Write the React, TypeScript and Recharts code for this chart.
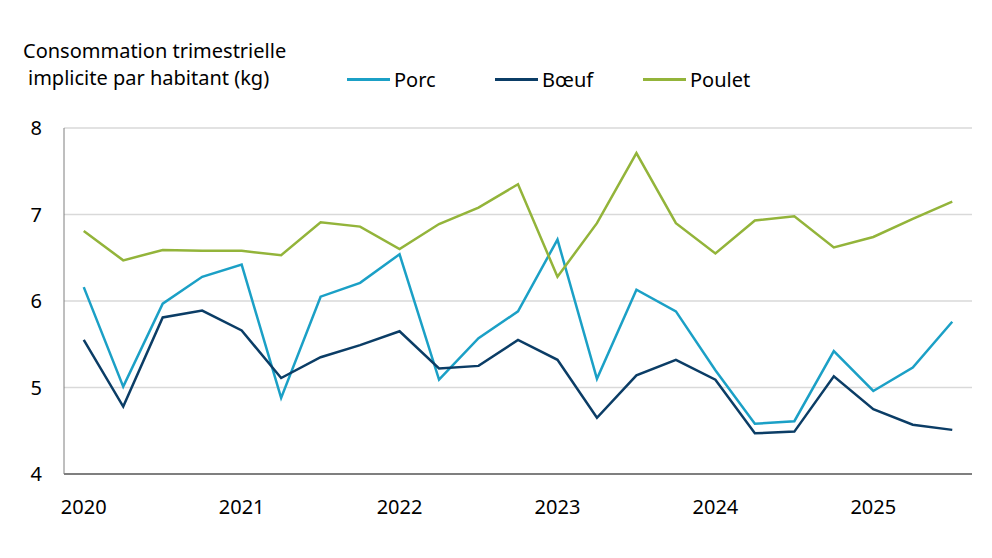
import { LineChart, Line, XAxis, YAxis, CartesianGrid } from 'recharts';

// Quarterly implied per-capita consumption (kg), 2020 T1 to 2025 T3
const quarters = [
  '2020 T1', '2020 T2', '2020 T3', '2020 T4',
  '2021 T1', '2021 T2', '2021 T3', '2021 T4',
  '2022 T1', '2022 T2', '2022 T3', '2022 T4',
  '2023 T1', '2023 T2', '2023 T3', '2023 T4',
  '2024 T1', '2024 T2', '2024 T3', '2024 T4',
  '2025 T1', '2025 T2', '2025 T3',
];

const porc = [
  6.16, 5.01, 5.97, 6.28, 6.42, 4.88, 6.05, 6.21,
  6.54, 5.09, 5.57, 5.88, 6.71, 5.10, 6.13, 5.88,
  5.20, 4.58, 4.61, 5.42, 4.96, 5.23, 5.76,
];

const boeuf = [
  5.55, 4.78, 5.81, 5.89, 5.66, 5.11, 5.35, 5.49,
  5.65, 5.22, 5.25, 5.55, 5.32, 4.65, 5.14, 5.32,
  5.09, 4.47, 4.49, 5.13, 4.75, 4.57, 4.51,
];

const poulet = [
  6.81, 6.47, 6.59, 6.58, 6.58, 6.53, 6.91, 6.86,
  6.60, 6.89, 7.08, 7.35, 6.28, 6.90, 7.71, 6.90,
  6.55, 6.93, 6.98, 6.62, 6.74, 6.95, 7.15,
];

const yearTicks = ['2020 T1', '2021 T1', '2022 T1', '2023 T1', '2024 T1', '2025 T1'];
const yTicks = [4, 5, 6, 7, 8];

const data = quarters.map((q, i) => ({
  q,
  porc: porc[i],
  boeuf: boeuf[i],
  poulet: poulet[i],
}));

const FONT = '"Noto Sans", sans-serif';

const series = [
  { key: 'porc', name: 'Porc', color: '#1ba0c6' },
  { key: 'boeuf', name: 'Bœuf', color: '#0b3d66' },
  { key: 'poulet', name: 'Poulet', color: '#93b43a' },
];

function LegendBox() {
  return (
    <div
      style={{
        position: 'absolute',
        left: 347,
        top: 66,
        display: 'flex',
        fontFamily: FONT,
        fontSize: 20,
        lineHeight: '27px',
        color: '#000',
      }}
    >
      {series.map((s) => (
        <div key={s.key} style={{ width: 148, display: 'flex', alignItems: 'center' }}>
          <div style={{ width: 43, height: 3, background: s.color, marginRight: 4 }} />
          <span>{s.name}</span>
        </div>
      ))}
    </div>
  );
}

export default function App() {
  return (
    <div style={{ position: 'absolute', left: 0, top: 0, width: 992, height: 558, background: '#fff' }}>
      <div
        style={{
          position: 'absolute',
          left: 23,
          top: 37,
          fontFamily: FONT,
          fontSize: 20,
          lineHeight: '27px',
          color: '#000',
          whiteSpace: 'nowrap',
        }}
      >
        Consommation trimestrielle
        <br />
        <span style={{ paddingLeft: 5 }}>implicite par habitant (kg)</span>
      </div>
      <LegendBox />
      <LineChart
        width={992}
        height={558}
        data={data}
        margin={{ top: 128, right: 20, bottom: 54, left: 24 }}
      >
        <CartesianGrid vertical={false} stroke="#d9d9d9" strokeWidth={1.5} />
        <XAxis
          dataKey="q"
          ticks={yearTicks}
          interval={0}
          tickFormatter={(v: string) => v.slice(0, 4)}
          padding={{ left: 19.75, right: 19.75 }}
          tickLine={false}
          tickSize={6}
          tickMargin={20}
          height={30}
          axisLine={{ stroke: '#7f7f7f', strokeWidth: 2 }}
          tick={{ fontFamily: FONT, fontSize: 20, fill: '#000' }}
        />
        <YAxis
          domain={[4, 8]}
          ticks={yTicks}
          interval={0}
          width={40}
          tickLine={false}
          tickSize={6}
          tickMargin={16}
          axisLine={{ stroke: '#7f7f7f', strokeWidth: 1 }}
          tick={{ fontFamily: FONT, fontSize: 20, fill: '#000' }}
        />
        {series.map((s) => (
          <Line
            key={s.key}
            type="linear"
            dataKey={s.key}
            name={s.name}
            stroke={s.color}
            strokeWidth={2.5}
            dot={false}
            activeDot={false}
            isAnimationActive={false}
          />
        ))}
      </LineChart>
    </div>
  );
}
